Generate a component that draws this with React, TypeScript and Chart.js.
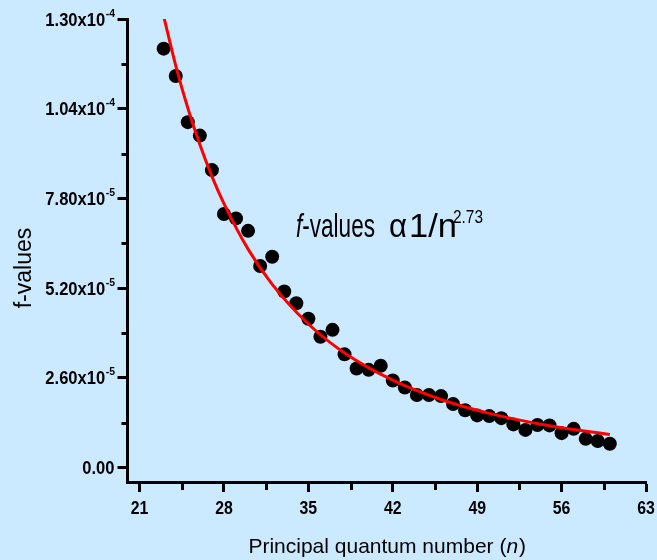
import React, { useEffect, useRef } from "react";
import { Chart, registerables } from "chart.js";

Chart.register(...registerables);

// ---- data ----
const nValues = [
  23, 24, 25, 26, 27, 28, 29, 30, 31, 32, 33, 34, 35, 36, 37, 38, 39, 40, 41,
  42, 43, 44, 45, 46, 47, 48, 49, 50, 51, 52, 53, 54, 55, 56, 57, 58, 59, 60,
];
const fValues = [
  12.14e-5, 11.35e-5, 10.01e-5, 9.62e-5, 8.62e-5, 7.35e-5, 7.22e-5, 6.86e-5,
  5.84e-5, 6.11e-5, 5.1e-5, 4.76e-5, 4.31e-5, 3.79e-5, 3.99e-5, 3.28e-5,
  2.87e-5, 2.83e-5, 2.95e-5, 2.52e-5, 2.32e-5, 2.1e-5, 2.1e-5, 2.07e-5,
  1.84e-5, 1.66e-5, 1.51e-5, 1.49e-5, 1.43e-5, 1.25e-5, 1.09e-5, 1.23e-5,
  1.22e-5, 0.996e-5, 1.12e-5, 0.83e-5, 0.77e-5, 0.69e-5,
];
// fitted curve at these n
const fitN = [23, 24, 25, 26, 27, 28, 30, 32, 35, 38, 42, 46, 50, 55, 60];
const fitValues = [
  13.08e-5, 11.65e-5, 10.42e-5, 9.36e-5, 8.44e-5, 7.65e-5, 6.33e-5, 5.31e-5,
  4.16e-5, 3.32e-5, 2.53e-5, 1.97e-5, 1.57e-5, 1.21e-5, 0.955e-5,
];

const xTicks = [21, 28, 35, 42, 49, 56, 63];
const xMinorTicks = [24.5, 31.5, 38.5, 45.5, 52.5, 59.5];
const yTicks = [0, 2.6e-5, 5.2e-5, 7.8e-5, 1.04e-4, 1.3e-4];
const yMinorTicks = [1.3e-5, 3.9e-5, 6.5e-5, 9.1e-5, 1.17e-4];
const yTickMantissa = ["0.00", "2.60x10", "5.20x10", "7.80x10", "1.04x10", "1.30x10"];
const yTickExponent = ["", "-5", "-5", "-5", "-4", "-4"];

const xTitleMain = "Principal quantum number (";
const xTitleItalic = "n";
const xTitleEnd = ")";
const yTitle = "f-values";

const FONT = '"Liberation Sans", Arial, Helvetica, sans-serif';

function drawScaled(
  ctx: CanvasRenderingContext2D,
  text: string,
  x: number,
  y: number,
  font: string,
  sx: number,
  align: "left" | "right" | "center"
) {
  ctx.save();
  ctx.font = font;
  const w = ctx.measureText(text).width * sx;
  let x0 = x;
  if (align === "right") x0 = x - w;
  else if (align === "center") x0 = x - w / 2;
  ctx.translate(x0, y);
  ctx.scale(sx, 1);
  ctx.textAlign = "left";
  ctx.textBaseline = "alphabetic";
  ctx.fillStyle = "#000";
  ctx.fillText(text, 0, 0);
  ctx.restore();
  return w;
}

function measure(ctx: CanvasRenderingContext2D, text: string, font: string) {
  ctx.save();
  ctx.font = font;
  const w = ctx.measureText(text).width;
  ctx.restore();
  return w;
}

const decorPlugin = {
  id: "decor",
  afterDraw(chart: any) {
    const ctx: CanvasRenderingContext2D = chart.ctx;
    const xs = chart.scales.x;
    const ys = chart.scales.y;
    const area = chart.chartArea;
    ctx.save();
    // minor ticks
    ctx.strokeStyle = "#000";
    ctx.lineWidth = 3;
    ctx.lineCap = "butt";
    xMinorTicks.forEach((v) => {
      const px = Math.round(xs.getPixelForValue(v)) + 0.5;
      ctx.beginPath();
      ctx.moveTo(px, area.bottom);
      ctx.lineTo(px, area.bottom + 8);
      ctx.stroke();
    });
    yMinorTicks.forEach((v) => {
      const py = Math.round(ys.getPixelForValue(v)) + 0.5;
      ctx.beginPath();
      ctx.moveTo(area.left, py);
      ctx.lineTo(area.left - 6, py);
      ctx.stroke();
    });

    // x tick labels
    xTicks.forEach((v) => {
      const px = xs.getPixelForValue(v);
      drawScaled(ctx, String(v), px, 514, `bold 18px ${FONT}`, 0.88, "center");
    });

    // y tick labels with superscript exponent
    yTicks.forEach((v, i) => {
      const py = ys.getPixelForValue(v);
      const right = 115;
      let supW = 0;
      if (yTickExponent[i]) {
        supW = drawScaled(ctx, yTickExponent[i], right, py + 6.5 - 9, `bold 11px ${FONT}`, 0.95, "right");
      }
      drawScaled(ctx, yTickMantissa[i], right - supW - 0.5, py + 6.5, `bold 18px ${FONT}`, 0.92, "right");
    });

    // x title
    const fN = `21px ${FONT}`;
    const fI = `italic 21px ${FONT}`;
    const w1 = measure(ctx, xTitleMain, fN);
    const w2 = measure(ctx, xTitleItalic, fI);
    const w3 = measure(ctx, xTitleEnd, fN);
    let tx = (area.left + area.right) / 2 - (w1 + w2 + w3) / 2;
    drawScaled(ctx, xTitleMain, tx, 553, fN, 1, "left");
    tx += w1;
    drawScaled(ctx, xTitleItalic, tx, 553, fI, 1, "left");
    tx += w2 + 1;
    drawScaled(ctx, xTitleEnd, tx, 553, fN, 1, "left");

    // y title
    ctx.save();
    ctx.translate(31, 268);
    ctx.rotate(-Math.PI / 2);
    ctx.font = `23px ${FONT}`;
    ctx.fillStyle = "#000";
    ctx.textAlign = "center";
    ctx.textBaseline = "alphabetic";
    ctx.fillText(yTitle, 0, 0);
    ctx.restore();

    // annotation: f-values α1/n^2.73
    const aF = `italic 33px ${FONT}`;
    const aN = `33px ${FONT}`;
    const wf = measure(ctx, "f", aF);
    const wv = measure(ctx, "-values", aN);
    const s1 = 79 / (wf + wv);
    drawScaled(ctx, "f", 296, 237, aF, s1, "left");
    drawScaled(ctx, "-values", 296 + wf * s1, 237, aN, s1, "left");
    const wa = measure(ctx, "\u03b1", aN);
    drawScaled(ctx, "\u03b1", 389, 237, aN, 18 / wa, "left");
    const w1n = measure(ctx, "1/n", aN);
    drawScaled(ctx, "1/n", 409, 237, aN, 48 / w1n, "left");
    const wsup = measure(ctx, "2.73", `19px ${FONT}`);
    drawScaled(ctx, "2.73", 453, 223, `19px ${FONT}`, 30 / wsup, "left");

    ctx.restore();
  },
};

export default function App() {
  const ref = useRef<HTMLCanvasElement | null>(null);

  useEffect(() => {
    if (!ref.current) return;
    const chart = new Chart(ref.current, {
      type: "scatter",
      data: {
        datasets: [
          {
            type: "line",
            data: fitN.map((n, i) => ({ x: n, y: fitValues[i] })),
            borderColor: "#ff0000",
            borderWidth: 3,
            pointRadius: 0,
            showLine: true,
            fill: false,
            cubicInterpolationMode: "monotone",
          } as any,
          {
            data: nValues.map((n, i) => ({ x: n, y: fValues[i] })),
            backgroundColor: "#000",
            borderWidth: 0,
            pointRadius: 7,
            pointHoverRadius: 7,
          },
        ],
      },
      options: {
        responsive: false,
        animation: false,
        events: [],
        layout: { padding: { left: 0, top: 19, right: 11, bottom: 0 } },
        plugins: {
          legend: { display: false },
          tooltip: { enabled: false },
        },
        scales: {
          x: {
            type: "linear",
            min: 20,
            max: 63,
            afterBuildTicks: (s: any) => {
              s.ticks = xTicks.map((v) => ({ value: v }));
            },
            afterFit: (s: any) => {
              s.height = 78;
            },
            ticks: { display: false },
            grid: {
              display: true,
              drawOnChartArea: false,
              drawTicks: true,
              tickLength: 10,
              tickWidth: 3,
              tickColor: "#000",
              color: "#000",
            },
            border: { display: true, color: "#000", width: 3 },
          },
          y: {
            type: "linear",
            min: -4.2e-6,
            max: 1.3e-4,
            afterBuildTicks: (s: any) => {
              s.ticks = yTicks.map((v) => ({ value: v }));
            },
            afterFit: (s: any) => {
              s.width = 127.5;
            },
            ticks: { display: false },
            grid: {
              display: true,
              drawOnChartArea: false,
              drawTicks: true,
              tickLength: 10,
              tickWidth: 3,
              tickColor: "#000",
              color: "#000",
            },
            border: { display: true, color: "#000", width: 3 },
          },
        },
      },
      plugins: [decorPlugin],
    });
    return () => chart.destroy();
  }, []);

  return (
    <div
      style={{
        position: "fixed",
        left: 0,
        top: 0,
        width: 657,
        height: 560,
        background: "#cceaff",
      }}
    >
      <canvas ref={ref} width={657} height={560} style={{ display: "block" }} />
    </div>
  );
}
